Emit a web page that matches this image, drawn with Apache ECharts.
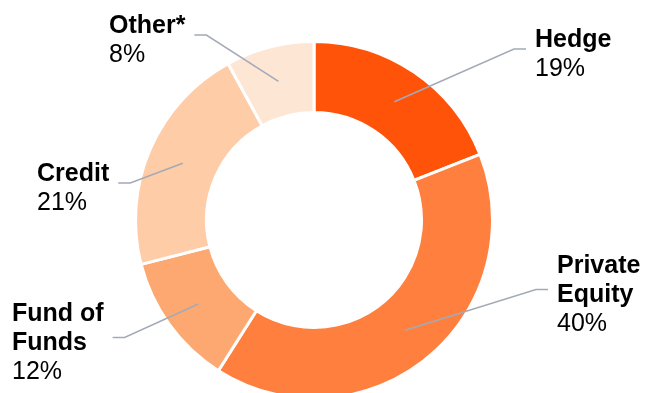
<!DOCTYPE html>
<html>
<head>
<meta charset="utf-8">
<script src="https://cdn.jsdelivr.net/npm/echarts@6/dist/echarts.min.js"></script>
<style>
  html, body { margin: 0; padding: 0; background: #fff; }
  #chart { width: 650px; height: 393px; }
</style>
</head>
<body>
<div id="chart"></div>
<script>
// Allocation by strategy (percent)
const categories = ['Hedge', 'Private\nEquity', 'Fund of\nFunds', 'Credit', 'Other*'];
const shares = [19, 40, 12, 21, 8];
const sliceColors = ['#FF5309', '#FF7F3E', '#FDA870', '#FECCA6', '#FEE6D5'];

// Ring geometry and where each label block sits (top-left corner)
const CX = 314, CY = 220, R_IN = 107.5, R_OUT = 178.5;
const labelSpots = [[535, 26], [557, 252], [12, 300], [37, 160], [109, 12]];

const total = shares.reduce((a, b) => a + b, 0);
const midAngles = [];
let acc = 0;
shares.forEach(v => {
  const mid = 90 - (acc + v / 2) / total * 360;
  midAngles.push(mid * Math.PI / 180);
  acc += v;
});

const fontFamily = 'Liberation Sans, Arial, sans-serif';
const labelStyle = {
  show: true,
  position: 'outside',
  formatter: p => p.name.split('\n').map(s => '{n|' + s + '}').join('\n') + '\n{p|' + p.value + '%}',
  rich: {
    n: { fontFamily, fontSize: 25, fontWeight: 'bold', color: '#000', lineHeight: 29 },
    p: { fontFamily, fontSize: 25, color: '#000', lineHeight: 29 }
  }
};

// Leader line: mid-ring point -> elbow -> short horizontal run toward the label
function placeLabel(params) {
  const i = params.dataIndex;
  const [lx, ly] = labelSpots[i];
  const w = params.labelRect.width, h = params.labelRect.height;
  const a = midAngles[i];
  const rMid = (R_IN + R_OUT) / 2;
  const sx = CX + rMid * Math.cos(a), sy = CY - rMid * Math.sin(a);
  const onRight = lx > CX;
  const ey = ly + h / 2 - 4;
  const ex = onRight ? lx - 9 : lx + w + 9;
  const kx = onRight ? ex - 12 : ex + 12;
  return {
    x: lx, y: ly, align: 'left', verticalAlign: 'top',
    labelLinePoints: [[sx, sy], [kx, ey], [ex, ey]]
  };
}

const pieData = categories.map((name, i) => ({ name, value: shares[i], itemStyle: { color: sliceColors[i] } }));

const chart = echarts.init(document.getElementById('chart'), null, { renderer: 'canvas' });
chart.setOption({
  animation: false,
  series: [
    {
      // the ring itself
      type: 'pie',
      z: 2,
      center: [CX, CY],
      radius: [R_IN, R_OUT],
      startAngle: 90,
      clockwise: true,
      avoidLabelOverlap: false,
      itemStyle: { borderColor: '#ffffff', borderWidth: 3 },
      label: { show: false },
      labelLine: { show: false },
      data: pieData
    },
    {
      // transparent overlay carrying labels so leader lines sit on top of the slices
      type: 'pie',
      z: 5,
      silent: true,
      center: [CX, CY],
      radius: [R_IN, R_OUT],
      startAngle: 90,
      clockwise: true,
      avoidLabelOverlap: false,
      itemStyle: { color: 'rgba(0,0,0,0)', borderWidth: 0 },
      emphasis: { disabled: true },
      label: labelStyle,
      labelLine: {
        show: true,
        length: 20,
        length2: 12,
        lineStyle: { color: '#A3AAB6', width: 1.5 }
      },
      labelLayout: placeLabel,
      data: categories.map((name, i) => ({ name, value: shares[i] }))
    }
  ]
});
</script>
</body>
</html>
